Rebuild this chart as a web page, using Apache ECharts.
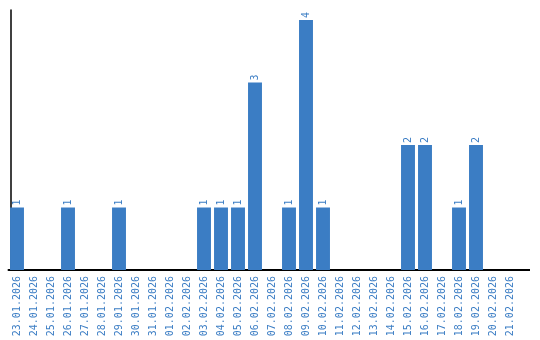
<!DOCTYPE html>
<html><head><meta charset="utf-8">
<script src="https://cdn.jsdelivr.net/npm/echarts@6/dist/echarts.min.js"></script>
<style>html,body{margin:0;padding:0;background:#fff}#c{width:540px;height:340px}</style>
</head><body><div id="c"></div>
<script>
const categories = ["23.01.2026","24.01.2026","25.01.2026","26.01.2026","27.01.2026","28.01.2026","29.01.2026","30.01.2026","31.01.2026","01.02.2026","02.02.2026","03.02.2026","04.02.2026","05.02.2026","06.02.2026","07.02.2026","08.02.2026","09.02.2026","10.02.2026","11.02.2026","12.02.2026","13.02.2026","14.02.2026","15.02.2026","16.02.2026","17.02.2026","18.02.2026","19.02.2026","20.02.2026","21.02.2026"];
const counts = [1,0,0,1,0,0,1,0,0,0,0,1,1,1,3,0,1,4,1,0,0,0,0,2,2,0,1,2,0,0];
const blue = '#3b7dc4';
const chart = echarts.init(document.getElementById('c'), null, {renderer:'canvas'});
chart.setOption({
  animation:false,
  grid:{left:8.5, top:10, width:510, height:260},
  xAxis:{type:'category', data:categories,
    axisLine:{lineStyle:{color:'#000', width:2}}, axisTick:{show:false},
    axisLabel:{rotate:90, interval:0, color:blue, fontFamily:'DejaVu Sans Mono', fontSize:10, margin:6}},
  yAxis:{type:'value', min:0, max:4.16, offset:-2, axisLine:{show:true, lineStyle:{color:'#000', width:1.5}},
    axisTick:{show:false}, axisLabel:{show:false}, splitLine:{show:false}},
  graphic:[{type:'line', shape:{x1:518, y1:270, x2:530, y2:270}, style:{stroke:'#000', lineWidth:2}}],
  series:[{type:'bar', data:counts.map(v=>v===0?null:v), barCategoryGap:'18%', itemStyle:{color:blue},
    label:{show:true, position:'top', rotate:90, align:'left', verticalAlign:'middle', distance:2,
      color:blue, fontFamily:'DejaVu Sans Mono', fontSize:10}}]
});
</script></body></html>
